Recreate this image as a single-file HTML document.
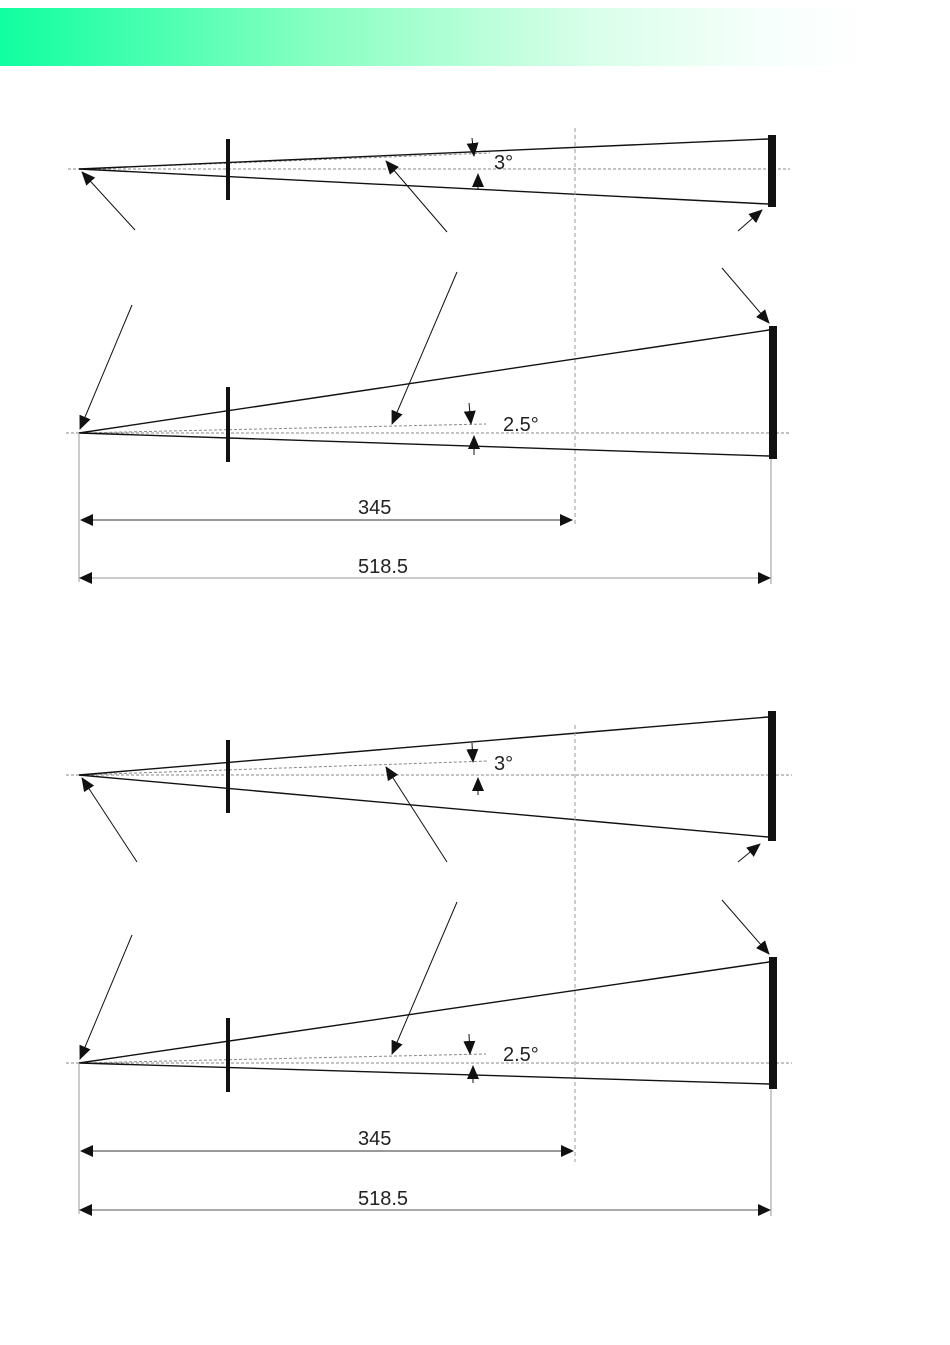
<!DOCTYPE html>
<html><head><meta charset="utf-8"><style>
html,body{margin:0;padding:0;background:#fff;}
body{width:950px;height:1345px;position:relative;overflow:hidden;}
.bar{position:absolute;left:0;top:8px;width:950px;height:58px;background:linear-gradient(to right,#10ffa0 0%,#8dffc4 35%,#d8ffe9 62%,#f6fffb 80%,#ffffff 92%);}
svg{position:absolute;left:0;top:0;}
text{font-family:"Liberation Sans",sans-serif;font-size:20px;fill:#222;}
</style></head><body>
<div class="bar"></div>
<svg width="950" height="1345" viewBox="0 0 950 1345">
<defs>
<marker id="a" markerWidth="14" markerHeight="12" refX="13" refY="6" orient="auto" markerUnits="userSpaceOnUse"><path d="M0,0 L14,6 L0,12 z" fill="#111"/></marker>
</defs>
<g>
<line x1="68" y1="169" x2="790" y2="169" stroke="#888" stroke-width="1" stroke-dasharray="3,2"/>
<line x1="79" y1="169" x2="490" y2="153" stroke="#888" stroke-width="1" stroke-dasharray="3,2"/>
<line x1="79" y1="169" x2="768" y2="139" stroke="#111" stroke-width="1.4"/>
<line x1="79" y1="169" x2="768" y2="204" stroke="#111" stroke-width="1.4"/>
<rect x="226" y="139" width="4" height="61" fill="#111"/>
<rect x="768" y="135" width="8" height="72" fill="#111"/>
<line x1="575" y1="128" x2="575" y2="525" stroke="#999" stroke-width="1" stroke-dasharray="4,3"/>
<line x1="135" y1="230" x2="82" y2="172" stroke="#111" stroke-width="1" marker-end="url(#a)"/>
<line x1="447" y1="232" x2="386" y2="161" stroke="#111" stroke-width="1" marker-end="url(#a)"/>
<line x1="738" y1="231" x2="762" y2="210" stroke="#111" stroke-width="1" marker-end="url(#a)"/>
<line x1="472" y1="138" x2="474" y2="156" stroke="#111" stroke-width="1" marker-end="url(#a)"/>
<line x1="478" y1="190" x2="478" y2="174" stroke="#111" stroke-width="1" marker-end="url(#a)"/>
<text x="494" y="169">3°</text>
<line x1="66" y1="433" x2="790" y2="433" stroke="#888" stroke-width="1" stroke-dasharray="3,2"/>
<line x1="79" y1="433" x2="486" y2="424" stroke="#888" stroke-width="1" stroke-dasharray="3,2"/>
<line x1="79" y1="433" x2="769" y2="330" stroke="#111" stroke-width="1.4"/>
<line x1="79" y1="433" x2="769" y2="456" stroke="#111" stroke-width="1.4"/>
<rect x="226" y="387" width="4" height="75" fill="#111"/>
<rect x="769" y="326" width="8" height="133" fill="#111"/>
<line x1="132" y1="305" x2="80" y2="429" stroke="#111" stroke-width="1" marker-end="url(#a)"/>
<line x1="457" y1="272" x2="392" y2="424" stroke="#111" stroke-width="1" marker-end="url(#a)"/>
<line x1="722" y1="268" x2="769" y2="323" stroke="#111" stroke-width="1" marker-end="url(#a)"/>
<line x1="469" y1="403" x2="471" y2="424" stroke="#111" stroke-width="1" marker-end="url(#a)"/>
<line x1="474" y1="455" x2="474" y2="436" stroke="#111" stroke-width="1" marker-end="url(#a)"/>
<text x="503" y="431">2.5°</text>
<line x1="79" y1="433" x2="79" y2="582" stroke="#999" stroke-width="1"/>
<line x1="771" y1="459" x2="771" y2="584" stroke="#999" stroke-width="1"/>
<line x1="92" y1="520" x2="560" y2="520" stroke="#333" stroke-width="1"/>
<path d="M80,520 L93,514 L93,526z M573,520 L560,514 L560,526z" fill="#111"/>
<text x="358" y="514">345</text>
<line x1="92" y1="578" x2="758" y2="578" stroke="#999" stroke-width="1"/>
<path d="M79,578 L92,572 L92,584z M771,578 L758,572 L758,584z" fill="#111"/>
<text x="358" y="573">518.5</text>
</g>
<g>
<line x1="66" y1="775" x2="792" y2="775" stroke="#888" stroke-width="1" stroke-dasharray="3,2"/>
<line x1="79" y1="775" x2="488" y2="761" stroke="#888" stroke-width="1" stroke-dasharray="3,2"/>
<line x1="79" y1="775" x2="768" y2="717" stroke="#111" stroke-width="1.4"/>
<line x1="79" y1="775" x2="768" y2="837" stroke="#111" stroke-width="1.4"/>
<rect x="226" y="740" width="4" height="73" fill="#111"/>
<rect x="768" y="711" width="8" height="130" fill="#111"/>
<line x1="575" y1="725" x2="575" y2="1162" stroke="#999" stroke-width="1" stroke-dasharray="4,3"/>
<line x1="137" y1="862" x2="82" y2="778" stroke="#111" stroke-width="1" marker-end="url(#a)"/>
<line x1="447" y1="862" x2="386" y2="767" stroke="#111" stroke-width="1" marker-end="url(#a)"/>
<line x1="738" y1="862" x2="760" y2="844" stroke="#111" stroke-width="1" marker-end="url(#a)"/>
<line x1="472" y1="743" x2="473" y2="762" stroke="#111" stroke-width="1" marker-end="url(#a)"/>
<line x1="478" y1="795" x2="478" y2="778" stroke="#111" stroke-width="1" marker-end="url(#a)"/>
<text x="494" y="770">3°</text>
<line x1="66" y1="1063" x2="792" y2="1063" stroke="#888" stroke-width="1" stroke-dasharray="3,2"/>
<line x1="79" y1="1063" x2="486" y2="1054" stroke="#888" stroke-width="1" stroke-dasharray="3,2"/>
<line x1="79" y1="1063" x2="769" y2="962" stroke="#111" stroke-width="1.4"/>
<line x1="79" y1="1063" x2="769" y2="1084" stroke="#111" stroke-width="1.4"/>
<rect x="226" y="1018" width="4" height="74" fill="#111"/>
<rect x="769" y="957" width="8" height="132" fill="#111"/>
<line x1="132" y1="935" x2="80" y2="1059" stroke="#111" stroke-width="1" marker-end="url(#a)"/>
<line x1="457" y1="902" x2="392" y2="1054" stroke="#111" stroke-width="1" marker-end="url(#a)"/>
<line x1="722" y1="900" x2="769" y2="954" stroke="#111" stroke-width="1" marker-end="url(#a)"/>
<line x1="469" y1="1034" x2="470" y2="1054" stroke="#111" stroke-width="1" marker-end="url(#a)"/>
<line x1="473" y1="1083" x2="473" y2="1066" stroke="#111" stroke-width="1" marker-end="url(#a)"/>
<text x="503" y="1061">2.5°</text>
<line x1="79" y1="1063" x2="79" y2="1214" stroke="#999" stroke-width="1"/>
<line x1="771" y1="1089" x2="771" y2="1216" stroke="#999" stroke-width="1"/>
<line x1="92" y1="1151" x2="562" y2="1151" stroke="#333" stroke-width="1"/>
<path d="M80,1151 L93,1145 L93,1157z M574,1151 L561,1145 L561,1157z" fill="#111"/>
<text x="358" y="1145">345</text>
<line x1="92" y1="1210" x2="758" y2="1210" stroke="#555" stroke-width="1"/>
<path d="M79,1210 L92,1204 L92,1216z M771,1210 L758,1204 L758,1216z" fill="#111"/>
<text x="358" y="1205">518.5</text>
</g>
</svg>
</body></html>
